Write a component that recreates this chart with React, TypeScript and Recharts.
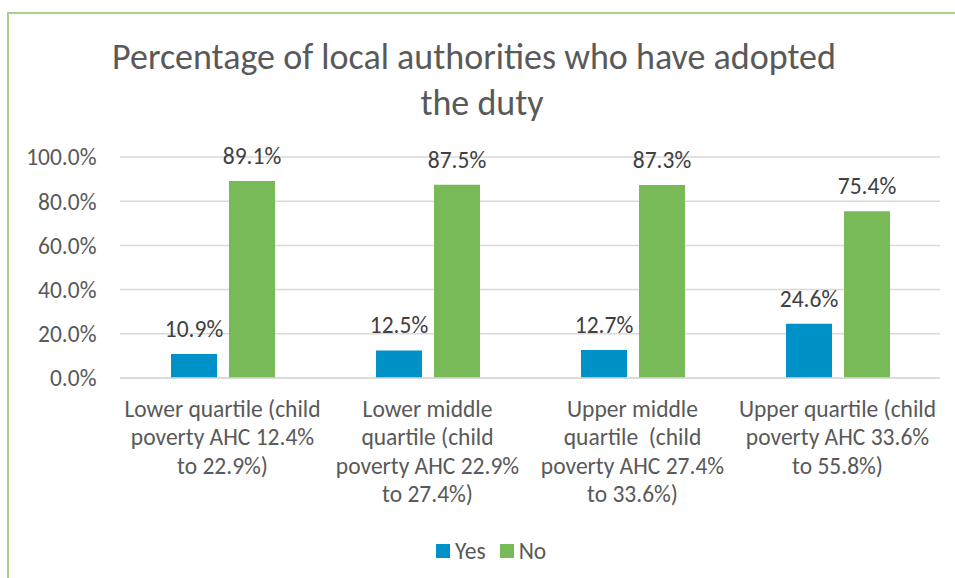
import React from 'react';
import { BarChart, Bar, XAxis, YAxis, CartesianGrid, Legend, LabelList } from 'recharts';

const FONT = 'Calibri, Carlito, Lato, sans-serif';
const FS = 23.5;

const categories = [
  'Lower quartile (child poverty AHC 12.4% to 22.9%)',
  'Lower middle quartile (child poverty AHC 22.9% to 27.4%)',
  'Upper middle quartile  (child poverty AHC 27.4% to 33.6%)',
  'Upper quartile (child poverty AHC 33.6% to 55.8%)',
];
const categoryLines = [
  ['Lower quartile (child', 'poverty AHC 12.4%', 'to 22.9%)'],
  ['Lower middle', 'quartile (child', 'poverty AHC 22.9%', 'to 27.4%)'],
  ['Upper middle', 'quartile  (child', 'poverty AHC 27.4%', 'to 33.6%)'],
  ['Upper quartile (child', 'poverty AHC 33.6%', 'to 55.8%)'],
];
const yesValues = [10.9, 12.5, 12.7, 24.6];
const noValues = [89.1, 87.5, 87.3, 75.4];
const yTicks = [0, 20, 40, 60, 80, 100];
const titleLines = ['Percentage of local authorities who have adopted', 'the duty'];
const seriesNames = ['Yes', 'No'];
const seriesColors = ['#0092C7', '#79BA58'];

const data = categories.map((c, i) => ({ name: c, idx: i, Yes: yesValues[i], No: noValues[i] }));

const fmt = (v: any) => `${Number(v).toFixed(1)}%`;

const XTick = (props: any) => {
  const { x, y, payload } = props;
  const i = payload && typeof payload.index === 'number' ? payload.index : props.index;
  const lines = categoryLines[i] || [];
  return (
    <text x={x} y={y} textAnchor="middle" fill="#595959" fontSize={FS} fontFamily={FONT} style={{ whiteSpace: 'pre' }}>
      {lines.map((l, k) => (
        <tspan key={k} x={x} dy={k === 0 ? 39 : 28.3}>{l}</tspan>
      ))}
    </text>
  );
};

const LegendContent = () => (
  <div style={{ height: 30, display: 'flex', alignItems: 'center', paddingLeft: 436, fontFamily: FONT, fontSize: FS, color: '#595959' }}>
    {seriesNames.map((n, i) => (
      <div key={n} style={{ display: 'flex', alignItems: 'center', marginRight: 14 }}>
        <div style={{ width: 14, height: 14, background: seriesColors[i], marginRight: 5 }} />
        <span>{n}</span>
      </div>
    ))}
  </div>
);

export default function App() {
  return (
    <div style={{ position: 'absolute', left: 0, top: 0, width: 955, height: 578, background: '#fff', fontFamily: FONT, overflow: 'hidden' }}>
      <div style={{ position: 'absolute', left: 7, top: 12, width: 1000, height: 1000, borderTop: '2px solid #A9D18E', borderLeft: '2px solid #A9D18E' }} />
      <div style={{ position: 'absolute', left: 0, top: 0, width: 955, height: 578 }}>
        <BarChart width={955} height={578} data={data} margin={{ top: 157, right: 15, left: 0, bottom: 12 }} barSize={46} barGap={12}>
          <CartesianGrid vertical={false} stroke="#D9D9D9" strokeWidth={1.5} />
          <XAxis dataKey="name" axisLine={{ stroke: '#D9D9D9', strokeWidth: 1.5 }} tickLine={false} tickSize={0} tickMargin={0} height={158} interval={0} tick={<XTick />} />
          <YAxis width={120} domain={[0, 100]} ticks={yTicks} tickFormatter={fmt} axisLine={false} tickLine={false} tickSize={0} tickMargin={23.5} tick={{ fill: '#595959', fontSize: FS, fontFamily: FONT }} />
          <Legend verticalAlign="bottom" height={30} content={<LegendContent />} />
          <Bar dataKey="Yes" name={seriesNames[0]} fill={seriesColors[0]} isAnimationActive={false}>
            <LabelList dataKey="Yes" position="top" offset={17} formatter={fmt} fill="#404040" fontSize={FS} fontFamily={FONT} />
          </Bar>
          <Bar dataKey="No" name={seriesNames[1]} fill={seriesColors[1]} isAnimationActive={false}>
            <LabelList dataKey="No" position="top" offset={17} formatter={fmt} fill="#404040" fontSize={FS} fontFamily={FONT} />
          </Bar>
        </BarChart>
      </div>
      <div style={{ position: 'absolute', left: 0, top: 35, width: 955, fontFamily: FONT, fontWeight: 300, fontSize: 36, lineHeight: '44px', color: '#595959', pointerEvents: 'none' }}>
        <div style={{ position: 'absolute', left: 474, transform: 'translateX(-50%)', whiteSpace: 'nowrap' }}>{titleLines[0]}</div>
        <div style={{ position: 'absolute', left: 482, top: 46, transform: 'translateX(-50%)', whiteSpace: 'nowrap' }}>{titleLines[1]}</div>
      </div>
    </div>
  );
}
